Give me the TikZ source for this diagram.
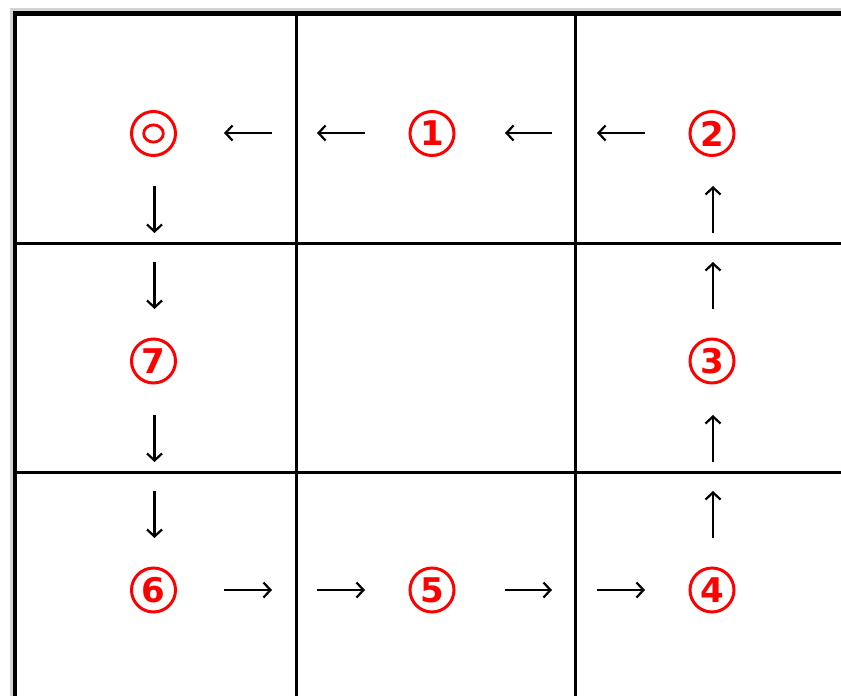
\documentclass[tikz,border=0pt]{standalone}
\usepackage{fontspec}
\newfontfamily\digitfont{DejaVu Sans}
\usetikzlibrary{arrows.meta}
\definecolor{framegray}{RGB}{212,212,212}
\tikzset{
  num/.style={circle, draw=red, line width=3pt, minimum size=44pt, inner sep=0pt,
    text=red, font=\digitfont\bfseries\fontsize{34}{34}\selectfont},
  gridline/.style={line width=3pt, black},
  glypharrow/.style={line width=2.6pt, -{Straight Barb[length=7pt,width=15pt,line width=2.2pt]}},
}
\begin{document}
\begin{tikzpicture}[x=1pt,y=-1pt]
\useasboundingbox (0,0) rectangle (841,696);
\fill[white] (0,0) rectangle (841,696);
\fill[framegray] (10,8) rectangle (841,696);
\fill[black] (12.8,11) rectangle (841,696);
\fill[white] (17.4,16) rectangle (841,696);
% grid
\draw[gridline] (296.3,16) -- (296.3,696);
\draw[gridline] (575.5,16) -- (575.5,696);
\draw[gridline] (17.4,243.5) -- (841,243.5);
\draw[gridline] (17.4,472.5) -- (841,472.5);
% numbered nodes
\node[num] (n0) at (153.5,133.5) {};
\draw[red, line width=2.8pt] (n0.center) ellipse [x radius=9.8, y radius=8.6];
\node[num] (n1) at (432,133.5) {1};
\node[num] (n2) at (712,133.5) {2};
\node[num] (n3) at (712,361) {3};
\node[num] (n4) at (712,590) {4};
\node[num] (n5) at (432,590) {5};
\node[num] (n6) at (153.5,590) {6};
\node[num] (n7) at (153.5,361) {7};
% arrow end points
\coordinate (a1s) at (272,133); \coordinate (a1e) at (224,133);
\coordinate (a2s) at (365,133); \coordinate (a2e) at (317,133);
\coordinate (a3s) at (552,133); \coordinate (a3e) at (505,133);
\coordinate (a4s) at (645,133); \coordinate (a4e) at (597,133);
\coordinate (b1s) at (224,590); \coordinate (b1e) at (272,590);
\coordinate (b2s) at (317,590); \coordinate (b2e) at (365,590);
\coordinate (b3s) at (505,590); \coordinate (b3e) at (552,590);
\coordinate (b4s) at (597,590); \coordinate (b4e) at (645,590);
\coordinate (l1s) at (154.5,186); \coordinate (l1e) at (154.5,233);
\coordinate (l2s) at (154.5,262); \coordinate (l2e) at (154.5,309);
\coordinate (l3s) at (154.5,415); \coordinate (l3e) at (154.5,462);
\coordinate (l4s) at (154.5,491); \coordinate (l4e) at (154.5,538);
\coordinate (r1s) at (713,538); \coordinate (r1e) at (713,491);
\coordinate (r2s) at (713,462); \coordinate (r2e) at (713,415);
\coordinate (r3s) at (713,309); \coordinate (r3e) at (713,262);
\coordinate (r4s) at (713,233); \coordinate (r4e) at (713,186);
\foreach \p in {a1,a2,a3,a4,b1,b2,b3,b4,l1,l2,l3,l4,r1,r2,r3,r4}
  \draw[glypharrow] (\p s) -- (\p e);
\end{tikzpicture}
\end{document}
